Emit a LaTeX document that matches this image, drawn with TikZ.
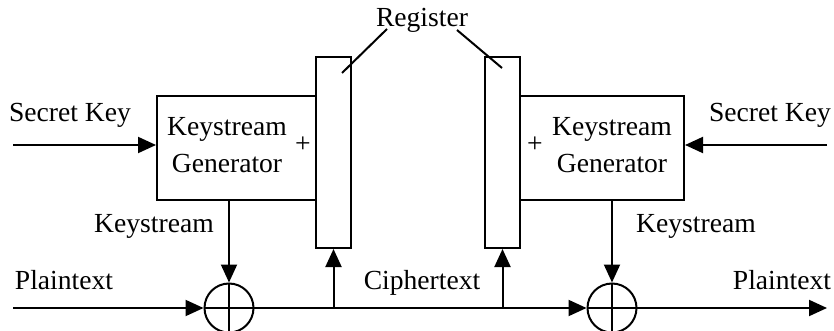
\documentclass[tikz,border=0pt]{standalone}
\usepackage{fontspec}
\setmainfont{Liberation Serif}
\usetikzlibrary{arrows.meta, positioning, calc}

\begin{document}
\begin{tikzpicture}[
  x=0.5pt, y=-0.5pt,
  font=\fontsize{13.8}{18.5}\selectfont,
  line width=1pt,
  kgbox/.style={draw, minimum height=52pt, inner sep=0pt},
  regbox/.style={draw, minimum width=17.5pt, minimum height=95.5pt, inner sep=0pt},
  xor/.style={draw, circle, minimum size=24.5pt, inner sep=0pt},
  lbl/.style={anchor=base, inner sep=0pt},
  arr/.style={-{Triangle[length=9pt, width=8pt]}}
]
  \useasboundingbox (0,0) rectangle (834,331);

  % encryption side
  \node[kgbox, minimum width=79.5pt] (kgl) at (236.5,148) {};
  \node[regbox] (regl) at (333.5,152.5) {};
  \node[xor] (xorl) at (229,308) {};
  \node[align=center] (kgltxt) at (227,145) {Keystream\\Generator};
  \node (plusl) at (303,145) {+};

  % decryption side
  \node[kgbox, minimum width=82pt] (kgr) at (602,148) {};
  \node[regbox] (regr) at (502.5,152.5) {};
  \node[xor] (xorr) at (612,308) {};
  \node[align=center] (kgrtxt) at (612,145) {Keystream\\Generator};
  \node (plusr) at (535,145) {+};

  % labels
  \node[lbl] (skl) at (70,122) {Secret Key};
  \node[lbl] (skr) at (770,122) {Secret Key};
  \node[lbl] (ksl) at (154,233) {Keystream};
  \node[lbl] (ksr) at (696,233) {Keystream};
  \node[lbl] (ptl) at (64,289) {Plaintext};
  \node[lbl] (ptr) at (782,289) {Plaintext};
  \node[lbl] (ct) at (422,289) {Ciphertext};
  \node[lbl] (reg) at (422,27) {Register};

  \coordinate (inl) at (13,145);
  \coordinate (inr) at (827,145);
  \coordinate (ptin) at (13,308);
  \coordinate (ptout) at (827,308);
  \coordinate (ldla) at (342,73);
  \coordinate (ldlb) at (387,29);
  \coordinate (ldra) at (502,68);
  \coordinate (ldrb) at (457,30);

  % xor crosses
  \draw (xorl.north) -- (xorl.south) (xorl.west) -- (xorl.east);
  \draw (xorr.north) -- (xorr.south) (xorr.west) -- (xorr.east);

  \draw[arr] (inl) -- (inl -| kgl.west);
  \draw[arr] (inr) -- (inr -| kgr.east);
  \draw[arr] (kgl.south -| xorl) -- (xorl.north);
  \draw[arr] (kgr.south -| xorr) -- (xorr.north);
  \draw[arr] (ptin) -- (xorl.west);
  \draw[arr] (xorl.east) -- (xorr.west);
  \draw[arr] (xorr.east) -- (ptout);
  \draw[arr] (regl.south |- xorl) -- (regl.south);
  \draw[arr] (regr.south |- xorr) -- (regr.south);
  \draw (ldla) -- (ldlb);
  \draw (ldra) -- (ldrb);
\end{tikzpicture}
\end{document}
